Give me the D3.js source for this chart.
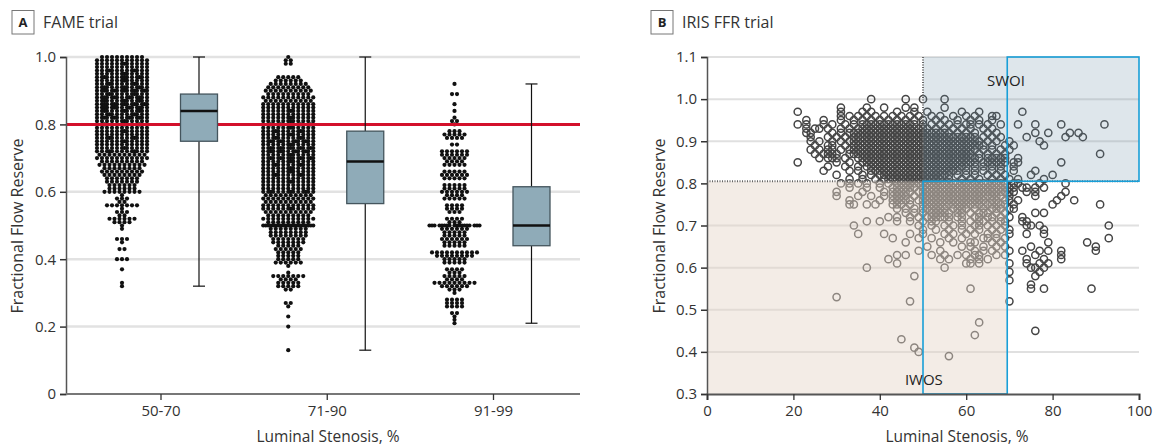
<!DOCTYPE html>
<html><head><meta charset="utf-8">
<script src="https://cdn.jsdelivr.net/npm/d3@7"></script>
<style>
body{margin:0;background:#fff;}
svg text{font-family:"Open Sans",sans-serif;fill:#333;}
</style></head><body>
<svg id="chart" width="1154" height="446"></svg>
<script>
// ---------------- DATA ----------------
const fameCategories = ["50-70", "71-90", "91-99"];
const fameYTicks = [0, 0.2, 0.4, 0.6, 0.8, 1.0];
const fameThreshold = 0.8;
// box plot statistics per category
const fameWhiskerLow = [0.32, 0.13, 0.21];
const fameQ1 = [0.75, 0.565, 0.44];
const fameMedian = [0.84, 0.69, 0.50];
const fameQ3 = [0.89, 0.78, 0.615];
const fameWhiskerHigh = [1.00, 1.00, 0.92];
// dot plot: [FFR value, number of lesions]
const fame5070Dots = [[1.00,9],[0.99,11],[0.98,12],[0.97,11],[0.96,13],[0.95,12],[0.94,14],[0.93,12],[0.92,13],[0.91,14],[0.90,16],[0.89,13],[0.88,15],[0.87,14],[0.86,16],[0.85,15],[0.84,14],[0.83,13],[0.82,15],[0.81,12],[0.80,14],[0.79,11],[0.78,12],[0.77,11],[0.76,13],[0.75,12],[0.74,11],[0.73,12],[0.72,13],[0.71,10],[0.70,11],[0.69,9],[0.68,10],[0.67,8],[0.66,9],[0.65,8],[0.64,7],[0.63,7],[0.62,6],[0.61,6],[0.60,8],[0.59,1],[0.58,3],[0.57,2],[0.56,7],[0.55,1],[0.54,3],[0.53,2],[0.52,6],[0.51,4],[0.50,1],[0.49,1],[0.46,3],[0.45,1],[0.43,2],[0.40,3],[0.37,1],[0.33,1],[0.32,1]];
const fame7190Dots = [[1.00,1],[0.99,2],[0.98,2],[0.94,5],[0.93,6],[0.92,8],[0.91,9],[0.90,10],[0.89,9],[0.88,11],[0.87,10],[0.86,11],[0.85,11],[0.84,12],[0.83,11],[0.82,12],[0.81,12],[0.80,16],[0.79,12],[0.78,13],[0.77,12],[0.76,13],[0.75,15],[0.74,12],[0.73,16],[0.72,15],[0.71,12],[0.70,16],[0.69,12],[0.68,13],[0.67,12],[0.66,12],[0.65,13],[0.64,11],[0.63,12],[0.62,11],[0.61,11],[0.60,14],[0.59,10],[0.58,11],[0.57,10],[0.56,11],[0.55,12],[0.54,10],[0.53,9],[0.52,11],[0.51,9],[0.50,21],[0.49,8],[0.48,8],[0.47,8],[0.46,7],[0.45,7],[0.44,5],[0.43,6],[0.42,5],[0.41,5],[0.40,5],[0.39,6],[0.38,1],[0.36,1],[0.35,7],[0.34,4],[0.33,5],[0.32,5],[0.31,2],[0.27,2],[0.26,1],[0.23,1],[0.20,1],[0.13,1]];
const fame9199Dots = [[0.92,1],[0.89,2],[0.86,1],[0.84,1],[0.82,1],[0.81,2],[0.80,1],[0.78,3],[0.77,5],[0.76,4],[0.74,2],[0.72,6],[0.71,6],[0.70,5],[0.69,4],[0.68,5],[0.66,5],[0.65,6],[0.64,5],[0.62,5],[0.61,5],[0.60,6],[0.59,4],[0.58,5],[0.56,4],[0.55,4],[0.54,3],[0.52,4],[0.51,3],[0.50,18],[0.49,6],[0.48,5],[0.47,5],[0.46,6],[0.45,5],[0.44,5],[0.42,10],[0.41,8],[0.40,5],[0.39,5],[0.37,4],[0.36,3],[0.35,5],[0.34,4],[0.33,9],[0.32,6],[0.31,3],[0.30,1],[0.28,4],[0.27,4],[0.26,4],[0.24,2],[0.23,1],[0.22,1],[0.21,1]];

const irisXTicks = [0, 20, 40, 60, 80, 100];
const irisYTicks = [0.3, 0.4, 0.5, 0.6, 0.7, 0.8, 0.9, 1.0, 1.1];
const irisFfrCut = 0.805;
const irisStenosisLow = 50;
const irisStenosisHigh = 69.5;
// scatter rows: [FFR, [luminal stenosis % values]]
const irisRows = [
[1.00,[38,46,50,55]],
[0.98,[31,37,41,46,48,55]],
[0.97,[21,31,36,38,44,48,51,59,63,73]],
[0.96,[31,33,35,37,39,41,43,45,47,49,52,54,57,60,62,66,67]],
[0.95,[23,27,31,34,36,38,40,42,44,46,48,50,53,55,58,61,63,66]],
[0.94,[21,23,27,29,32,34,36,37,38,39,40,41,42,43,44,45,46,47,48,50,52,54,56,58,60,61,63,65,68,72,76,82,92]],
[0.93,[23,25,26,28,31,33,35,36,37,38,39,40,41,42,43,44,45,46,47,48,49,50,51,53,55,57,59,61,64,66]],
[0.92,[23,24,29,31,33,34,35,36,37,38,39,40,41,42,43,44,45,46,47,48,49,50,51,52,53,54,55,56,58,60,62,65,67,76,79,84,86]],
[0.91,[24,28,30,32,34,35,36,37,38,39,40,41,42,43,44,45,46,47,48,49,50,51,52,53,54,55,56,57,58,59,60,61,62,64,66,68,74,83,87]],
[0.90,[24,26,29,31,33,34,35,36,37,38,39,40,41,42,43,44,45,46,47,48,49,50,51,52,53,54,55,56,57,58,59,60,61,62,63,65,67,70,77]],
[0.89,[25,28,29,32,34,35,36,37,38,39,40,41,42,43,44,45,46,47,48,49,50,51,52,53,54,55,56,57,58,59,60,61,62,63,64,66,69,71,78]],
[0.88,[24,26,28,29,31,33,34,35,36,37,38,39,40,41,42,43,44,45,46,47,48,49,50,51,52,53,54,55,56,57,58,59,60,61,62,64,66,68,70]],
[0.87,[25,27,28,29,30,33,34,35,36,37,38,39,40,41,42,43,44,45,46,47,48,49,50,51,52,53,54,55,56,57,58,59,60,61,63,65,67,69,91]],
[0.86,[26,28,29,30,32,35,36,37,38,39,40,41,42,43,44,45,46,47,48,49,50,51,52,53,54,55,56,57,58,59,60,61,62,63,65,66,67,68,69,72]],
[0.85,[21,30,33,36,37,38,39,40,41,42,43,44,45,46,47,48,49,50,51,52,53,54,55,56,57,58,59,60,61,62,64,65,66,67,68,69,71,72,82]],
[0.84,[28,32,35,37,38,39,40,41,42,43,44,45,46,47,48,49,50,51,52,53,54,55,56,57,58,59,60,62,64,66,68,71]],
[0.83,[27,33,35,38,39,40,41,42,43,44,45,46,47,48,49,50,51,52,53,54,55,56,57,58,60,62,64,66,68,71,76]],
[0.82,[30,36,38,40,41,42,43,44,45,46,47,48,49,50,51,52,53,54,55,56,58,60,62,65,67,69,75,80]],
[0.81,[33,36,39,41,42,43,44,45,46,47,48,49,50,51,52,53,54,56,59,61,63,66,68,70,72,78]],
[0.80,[31,33,35,37,40,42,44,45,46,47,48,49,50,51,52,53,54,55,56,57,58,59,60,61,62,63,64,65,66,67,68,69,71,72,77,83]],
[0.79,[33,37,40,43,44,45,46,47,48,50,51,52,53,54,55,56,57,58,59,60,61,62,63,64,65,66,67,68,69,70,71,73,74,76,78]],
[0.78,[30,36,41,43,44,45,46,47,49,50,51,52,53,54,55,56,57,58,59,60,61,62,63,64,65,66,67,68,69,70,71,74,76,83]],
[0.77,[30,35,38,41,43,44,45,46,48,50,51,52,53,54,55,56,57,58,59,60,61,62,63,64,65,66,67,68,70,76,82]],
[0.76,[33,40,43,44,45,46,47,49,50,51,52,53,54,55,56,57,58,59,60,61,62,63,64,66,67,69,70,72,81,85]],
[0.75,[33,34,37,39,43,44,45,47,50,51,52,53,54,55,56,57,58,59,60,61,62,63,64,65,66,67,68,69,71,80,91]],
[0.74,[44,46,48,50,51,52,53,54,55,57,58,59,60,62,64,66,67,68,70,71]],
[0.73,[46,48,50,52,53,54,55,56,58,59,61,63,64,65,67,69,76,78]],
[0.72,[42,44,47,49,51,52,53,54,55,56,58,59,62,63,65,66,68,70,73]],
[0.71,[37,40,44,47,50,52,53,56,59,61,63,64,66,68,69,73,74]],
[0.70,[34,49,52,55,57,59,62,63,65,67,69,74,75,77,93]],
[0.69,[50,53,56,59,61,63,66,68,70,78]],
[0.68,[35,41,47,50,55,57,60,62,65,67,70,74,78]],
[0.67,[43,49,52,56,59,64,65,67,69,93]],
[0.66,[46,54,57,61,62,66,68,79,88]],
[0.65,[51,59,61,64,67,69,75,90]],
[0.64,[49,54,62,64,66,70,73,77,79,82,90]],
[0.63,[44,46,52,55,58,60,62,63,67,69,76,82]],
[0.62,[42,54,56,61,63,65,74,78,82]],
[0.61,[44,60,61,63,70,74,77,79]],
[0.60,[37,55,75,76,78]],
[0.59,[70,77]],
[0.58,[48,76]],
[0.57,[70]],
[0.56,[75]],
[0.55,[61,75,78,89]],
[0.53,[30]],
[0.52,[47,70]],
[0.47,[63]],
[0.45,[76]],
[0.44,[62]],
[0.43,[45]],
[0.41,[48]],
[0.40,[49]],
[0.39,[56]]
];

// ---------------- CHART ----------------
const svg = d3.select("#chart");
const FONT = 15;

function panelLabel(x, letter, title) {
  const g = svg.append("g");
  g.append("rect").attr("x", x).attr("y", 10.5).attr("width", 22).attr("height", 23.5)
    .attr("fill", "#fff").attr("stroke", "#777").attr("stroke-width", 1);
  g.append("text").attr("x", x + 11).attr("y", 27).attr("text-anchor", "middle")
    .attr("font-size", 13).attr("font-weight", "bold").style("fill", "#222").text(letter);
  g.append("text").attr("x", x + 31).attr("y", 28).attr("font-size", 16).style("fill", "#333").text(title);
}

// ===== Panel A =====
panelLabel(12, "A", "FAME trial");
const aLeft = 66, aRight = 580;
const yA = d3.scaleLinear().domain([0, 1]).range([394, 57]);
const xA = d3.scalePoint().domain(fameCategories).range([160.5, 493]);
const pairOffset = 38.5, dotStep = 5, dotMaxRow = 11;
const gA = svg.append("g");

gA.selectAll("line.grid").data(fameYTicks.filter(d => d > 0)).join("line")
  .attr("x1", aLeft).attr("x2", aRight).attr("y1", d => yA(d)).attr("y2", d => yA(d))
  .attr("stroke", "#e2e2e2").attr("stroke-width", 2.5);

function dotOffsets(n) {
  const out = [];
  const a = Math.min(n, dotMaxRow);
  for (let i = 0; i < a; i++) out.push((i - (a - 1) / 2) * dotStep);
  const b = n - a;
  const slots = dotMaxRow - 1;
  for (let j = 0; j < b; j++) {
    const k = Math.floor((j + 0.5) * slots / b);
    out.push((k - (slots - 1) / 2) * dotStep);
  }
  return out;
}
const fameDotSets = [fame5070Dots, fame7190Dots, fame9199Dots];
const dots = [];
fameDotSets.forEach((set, ci) => {
  const cx = xA(fameCategories[ci]) - pairOffset;
  set.forEach(([v, n]) => dotOffsets(n).forEach(o => dots.push({x: cx + o, v})));
});
gA.selectAll("circle.dot").data(dots).join("circle")
  .attr("cx", d => d.x).attr("cy", d => yA(d.v)).attr("r", 2.1).attr("fill", "#111");

// red threshold
gA.append("line").attr("x1", aLeft).attr("x2", aRight)
  .attr("y1", yA(fameThreshold)).attr("y2", yA(fameThreshold))
  .attr("stroke", "#d3102b").attr("stroke-width", 3);

// boxes
const boxW = 37, capW = 12;
fameCategories.forEach((c, i) => {
  const bx = xA(c) + pairOffset;
  gA.append("line").attr("x1", bx).attr("x2", bx).attr("y1", yA(fameWhiskerHigh[i])).attr("y2", yA(fameQ3[i]))
    .attr("stroke", "#111").attr("stroke-width", 1.2);
  gA.append("line").attr("x1", bx).attr("x2", bx).attr("y1", yA(fameQ1[i])).attr("y2", yA(fameWhiskerLow[i]))
    .attr("stroke", "#111").attr("stroke-width", 1.2);
  [fameWhiskerHigh[i], fameWhiskerLow[i]].forEach(v => {
    gA.append("line").attr("x1", bx - capW / 2).attr("x2", bx + capW / 2).attr("y1", yA(v)).attr("y2", yA(v))
      .attr("stroke", "#111").attr("stroke-width", 1.2);
  });
  gA.append("rect").attr("x", bx - boxW / 2).attr("width", boxW)
    .attr("y", yA(fameQ3[i])).attr("height", yA(fameQ1[i]) - yA(fameQ3[i]))
    .attr("fill", "#8fabb8").attr("stroke", "#44555d").attr("stroke-width", 1.3);
  gA.append("line").attr("x1", bx - boxW / 2).attr("x2", bx + boxW / 2)
    .attr("y1", yA(fameMedian[i])).attr("y2", yA(fameMedian[i]))
    .attr("stroke", "#111").attr("stroke-width", 2.5);
});

// axes A
const yAxisA = gA.append("g").attr("transform", `translate(${aLeft},0)`)
  .call(d3.axisLeft(yA).tickValues(fameYTicks).tickSize(6).tickPadding(4)
    .tickFormat(d => d === 0 ? "0" : d3.format(".1f")(d)));
yAxisA.select(".domain").attr("stroke", "#555").attr("stroke-width", 1.5);
yAxisA.selectAll(".tick line").attr("stroke", "#333").attr("stroke-width", 1.5);
yAxisA.selectAll("text").attr("font-size", FONT).style("fill", "#333").attr("font-family", null);

gA.append("line").attr("x1", aLeft).attr("x2", aRight).attr("y1", yA(0)).attr("y2", yA(0))
  .attr("stroke", "#777").attr("stroke-width", 2);
const xAxisA = gA.append("g").attr("transform", `translate(0,${yA(0)})`)
  .call(d3.axisBottom(xA).tickSize(6).tickPadding(5));
xAxisA.select(".domain").remove();
xAxisA.selectAll(".tick line").attr("stroke", "#333").attr("stroke-width", 1.3);
xAxisA.selectAll("text").attr("font-size", FONT).style("fill", "#333").attr("font-family", null);

svg.append("text").attr("x", 328).attr("y", 442).attr("text-anchor", "middle")
  .attr("font-size", 15.5).text("Luminal Stenosis, %");
svg.append("text").attr("transform", "translate(23,226) rotate(-90)").attr("text-anchor", "middle")
  .attr("font-size", 16).text("Fractional Flow Reserve");

// ===== Panel B =====
panelLabel(651, "B", "IRIS FFR trial");
const xB = d3.scaleLinear().domain([0, 100]).range([707, 1139]);
const yB = d3.scaleLinear().domain([0.3, 1.1]).range([394, 57]);
const gB = svg.append("g");

gB.selectAll("line.grid").data(irisYTicks.filter(d => d > 0.3 && d !== 0.8)).join("line")
  .attr("x1", xB(0)).attr("x2", xB(100)).attr("y1", d => yB(d)).attr("y2", d => yB(d))
  .attr("stroke", "#e0e0e0").attr("stroke-width", 2);

const irisPoints = [];
irisRows.forEach(([f, xs]) => xs.forEach(s => irisPoints.push({s, f})));
gB.selectAll("circle.pt").data(irisPoints).join("circle")
  .attr("cx", d => xB(d.s)).attr("cy", d => yB(d.f)).attr("r", 3.6)
  .attr("fill", "none").attr("stroke", "#454545").attr("stroke-width", 1.5);

// shaded overlays
gB.append("rect").attr("x", xB(0)).attr("width", xB(irisStenosisHigh) - xB(0))
  .attr("y", yB(irisFfrCut)).attr("height", yB(0.3) - yB(irisFfrCut))
  .attr("fill", "rgb(228,212,200)").attr("fill-opacity", 0.45);
gB.append("rect").attr("x", xB(irisStenosisLow)).attr("width", xB(100) - xB(irisStenosisLow))
  .attr("y", yB(1.1)).attr("height", yB(irisFfrCut) - yB(1.1))
  .attr("fill", "rgb(105,140,165)").attr("fill-opacity", 0.22);

// dotted threshold lines
gB.append("line").attr("x1", xB(0)).attr("x2", xB(100)).attr("y1", yB(irisFfrCut)).attr("y2", yB(irisFfrCut))
  .attr("stroke", "#666").attr("stroke-width", 2).attr("stroke-dasharray", "1,1.5");
gB.append("line").attr("x1", xB(irisStenosisLow)).attr("x2", xB(irisStenosisLow)).attr("y1", yB(1.1)).attr("y2", yB(irisFfrCut))
  .attr("stroke", "#666").attr("stroke-width", 2).attr("stroke-dasharray", "1,1.5");

// blue outlined regions
gB.append("rect").attr("x", xB(irisStenosisLow)).attr("width", xB(irisStenosisHigh) - xB(irisStenosisLow))
  .attr("y", yB(irisFfrCut)).attr("height", yB(0.3) - yB(irisFfrCut))
  .attr("fill", "none").attr("stroke", "#189fd8").attr("stroke-width", 1.6);
gB.append("rect").attr("x", xB(irisStenosisHigh)).attr("width", xB(100) - xB(irisStenosisHigh))
  .attr("y", yB(1.1)).attr("height", yB(irisFfrCut) - yB(1.1))
  .attr("fill", "none").attr("stroke", "#189fd8").attr("stroke-width", 1.6);

gB.append("text").attr("x", xB(69.2)).attr("y", yB(1.043) + 5).attr("text-anchor", "middle")
  .attr("font-size", FONT).style("fill", "#222").text("SWOI");
gB.append("text").attr("x", xB(50.2)).attr("y", yB(0.333) + 5).attr("text-anchor", "middle")
  .attr("font-size", FONT).style("fill", "#222").text("IWOS");

// axes B
const yAxisB = gB.append("g").attr("transform", `translate(${xB(0)},0)`)
  .call(d3.axisLeft(yB).tickValues(irisYTicks).tickSize(6).tickPadding(4).tickFormat(d3.format(".1f")));
yAxisB.select(".domain").attr("stroke", "#555").attr("stroke-width", 1.5);
yAxisB.selectAll(".tick line").attr("stroke", "#333").attr("stroke-width", 1.5);
yAxisB.selectAll("text").attr("font-size", FONT).style("fill", "#333").attr("font-family", null);

const xAxisB = gB.append("g").attr("transform", `translate(0,${yB(0.3)})`)
  .call(d3.axisBottom(xB).tickValues(irisXTicks).tickSize(6).tickPadding(5));
xAxisB.select(".domain").attr("stroke", "#555").attr("stroke-width", 2);
xAxisB.selectAll(".tick line").attr("stroke", "#333").attr("stroke-width", 1.3);
xAxisB.selectAll("text").attr("font-size", FONT).style("fill", "#333").attr("font-family", null);

svg.append("text").attr("x", 957).attr("y", 442).attr("text-anchor", "middle")
  .attr("font-size", 15.5).text("Luminal Stenosis, %");
svg.append("text").attr("transform", "translate(665,226) rotate(-90)").attr("text-anchor", "middle")
  .attr("font-size", 16).text("Fractional Flow Reserve");
</script>
</body></html>
